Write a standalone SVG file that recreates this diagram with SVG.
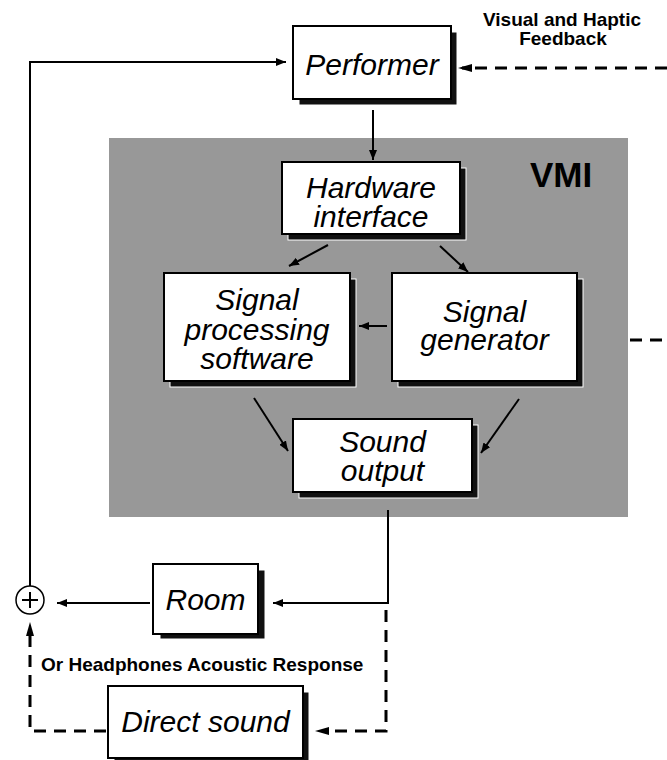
<svg xmlns="http://www.w3.org/2000/svg" width="667" height="760" viewBox="0 0 667 760">
  <defs>
    <marker id="arrow" viewBox="0 0 10 8" refX="10" refY="4" markerWidth="10" markerHeight="8" markerUnits="userSpaceOnUse" orient="auto">
      <path d="M0,0 L10,4 L0,8 Z" fill="#000"/>
    </marker>
  </defs>
  <style>
    .box { fill: #fff; stroke: #000; stroke-width: 2; }
    .shadow { fill: #111; stroke: #fff; stroke-width: 1; }
    .label { font-family: "Liberation Sans", Arial, sans-serif; font-style: italic; font-size: 30px; fill: #000; text-anchor: middle; }
    .note { font-family: "Liberation Sans", Arial, sans-serif; font-weight: bold; fill: #000; }
    .wire { fill: none; stroke: #000; stroke-width: 2; }
    .dash { fill: none; stroke: #000; stroke-width: 3; stroke-dasharray: 12 8; }
  </style>
  <rect width="667" height="760" fill="#fff"/>

  <!-- VMI enclosure -->
  <g id="vmi">
    <rect x="109" y="138" width="519" height="379" fill="#989898"/>
    <text class="note" x="561" y="187" font-size="35" text-anchor="middle">VMI</text>
  </g>

  <!-- Connectors -->
  <g id="connectors">
    <path class="wire" d="M30,586 V62 H286" marker-end="url(#arrow)"/>
    <path class="dash" d="M667,68 H462"/>
    <path d="M472,64 L458,68 L472,72 Z" fill="#000"/>
    <path class="wire" d="M373,110 V160" marker-end="url(#arrow)"/>
    <path class="wire" d="M328,245 L289,266" marker-end="url(#arrow)"/>
    <path class="wire" d="M440,246 L468,272" marker-end="url(#arrow)"/>
    <path class="wire" d="M387,326 H359" marker-end="url(#arrow)"/>
    <path class="wire" d="M254,398 L288,451" marker-end="url(#arrow)"/>
    <path class="wire" d="M519,399 L481,453" marker-end="url(#arrow)"/>
    <path class="dash" d="M630,340 H667"/>
    <path class="wire" d="M388,510 V603 H273" marker-end="url(#arrow)"/>
    <path class="wire" d="M150,603 H57" marker-end="url(#arrow)"/>
    <path class="dash" d="M386,610 V731 H330"/>
    <path d="M329,727 L315,731 L329,735 Z" fill="#000"/>
    <path class="dash" d="M106,731 H30 V636"/>
    <path d="M26,636 L30,622 L34,636 Z" fill="#000"/>
    <text class="note" x="562" y="26" font-size="19" text-anchor="middle">Visual and Haptic</text>
    <text class="note" x="563" y="45" font-size="19" text-anchor="middle">Feedback</text>
    <text class="note" x="41" y="671" font-size="19">Or Headphones Acoustic Response</text>
  </g>

  <!-- Summing junction -->
  <g id="sum">
    <circle cx="30" cy="600" r="14" fill="#fff" stroke="#000" stroke-width="1.5"/>
    <path d="M30,592 V608 M22,600 H38" stroke="#000" stroke-width="2"/>
  </g>

  <g id="performer">
    <rect class="shadow" x="299" y="32" width="158" height="73"/>
    <rect class="box" x="293" y="26" width="158" height="73"/>
    <text class="label" x="372" y="75">Performer</text>
  </g>

  <g id="hardware">
    <rect class="shadow" x="288" y="168" width="178" height="72"/>
    <rect class="box" x="282" y="162" width="178" height="72"/>
    <text class="label" x="371" y="198">Hardware</text>
    <text class="label" x="371" y="227">interface</text>
  </g>

  <g id="signal-processing">
    <rect class="shadow" x="170" y="279" width="186" height="108"/>
    <rect class="box" x="164" y="273" width="186" height="108"/>
    <text class="label" x="257" y="310">Signal</text>
    <text class="label" x="257" y="340">processing</text>
    <text class="label" x="257" y="369">software</text>
  </g>

  <g id="signal-generator">
    <rect class="shadow" x="398" y="279" width="185" height="108"/>
    <rect class="box" x="392" y="273" width="185" height="108"/>
    <text class="label" x="484.5" y="322">Signal</text>
    <text class="label" x="484.5" y="350">generator</text>
  </g>

  <g id="sound-output">
    <rect class="shadow" x="299" y="425" width="179" height="73"/>
    <rect class="box" x="293" y="419" width="179" height="73"/>
    <text class="label" x="382.5" y="452">Sound</text>
    <text class="label" x="382.5" y="481">output</text>
  </g>

  <g id="room">
    <rect class="shadow" x="160" y="570" width="105" height="69"/>
    <rect class="box" x="153" y="564" width="105" height="70"/>
    <text class="label" x="205.5" y="610">Room</text>
  </g>

  <g id="direct-sound">
    <rect class="shadow" x="114" y="692" width="195" height="72"/>
    <rect class="box" x="108" y="686" width="195" height="72"/>
    <text class="label" x="205.5" y="732">Direct sound</text>
  </g>
</svg>
